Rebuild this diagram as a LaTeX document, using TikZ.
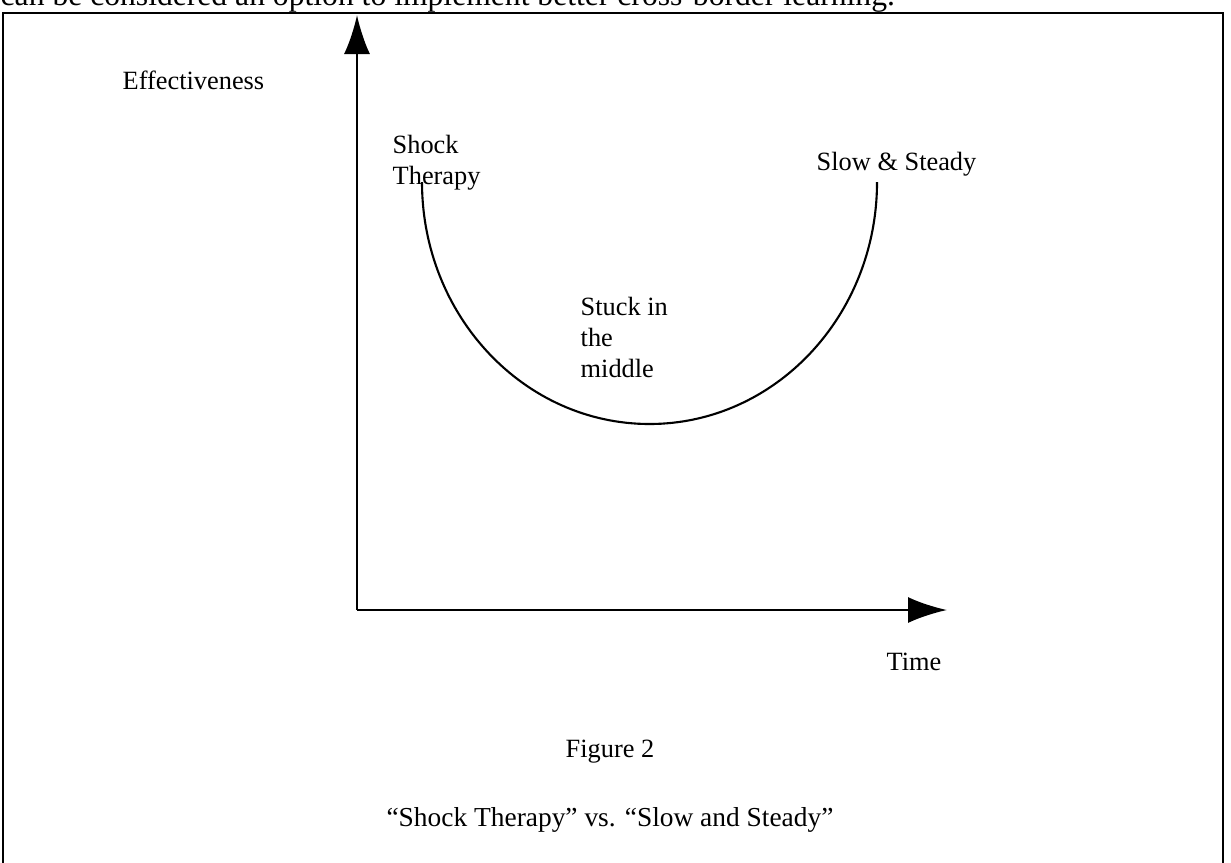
\documentclass[tikz,border=0pt]{standalone}
\usepackage{fontspec}
\setmainfont{Liberation Serif}
\usetikzlibrary{arrows.meta}
\tikzset{>={Latex[length=3.9mm,width=2.6mm]}}
\tikzset{lbl/.style={font=\fontsize{7.5}{8.8}\selectfont, inner sep=0pt}}
\begin{document}
\begin{tikzpicture}
\useasboundingbox (0,0) rectangle (12.31,8.62);
% running text of the page above the box
\node[anchor=base west, inner sep=0pt, font=\fontsize{9}{10}\selectfont] (bodytext) at (0,8.57)
 {can be considered an option to implement better cross-border learning.};
% frame
\draw[line width=0.6pt] (0.03,-0.2) -- (0.03,8.49) -- (12.23,8.49) -- (12.23,-0.2);
% axes
\coordinate (origin) at (3.57,2.52);
\coordinate (ytip) at (3.57,8.47);
\coordinate (xtip) at (9.47,2.52);
\draw[->, line width=0.7pt] (origin) -- (ytip);
\draw[->, line width=0.7pt] (origin) -- (xtip);
% the curve
\draw[line width=0.6pt] (4.22,6.80) arc[start angle=180, end angle=360, x radius=2.275, y radius=2.42];
% labels (base = last line)
\node[lbl, anchor=base west] (effect) at (1.22,7.73) {Effectiveness};
\node[lbl, anchor=base west, align=left] (shock) at (3.92,6.78) {Shock\\Therapy};
\node[lbl, anchor=base west] (slow) at (8.16,6.92) {Slow \& Steady};
\node[lbl, anchor=base west, align=left] (stuck) at (5.80,4.85) {Stuck in\\the\\middle};
\node[lbl, anchor=base west] (time) at (8.86,1.92) {Time};
\node[lbl, anchor=base] (fig) at (6.10,1.05) {Figure 2};
\node[lbl, anchor=base, font=\fontsize{7.8}{9}\selectfont] (caption) at (6.10,0.36) {``Shock Therapy'' vs. ``Slow and Steady''};
\end{tikzpicture}
\end{document}
